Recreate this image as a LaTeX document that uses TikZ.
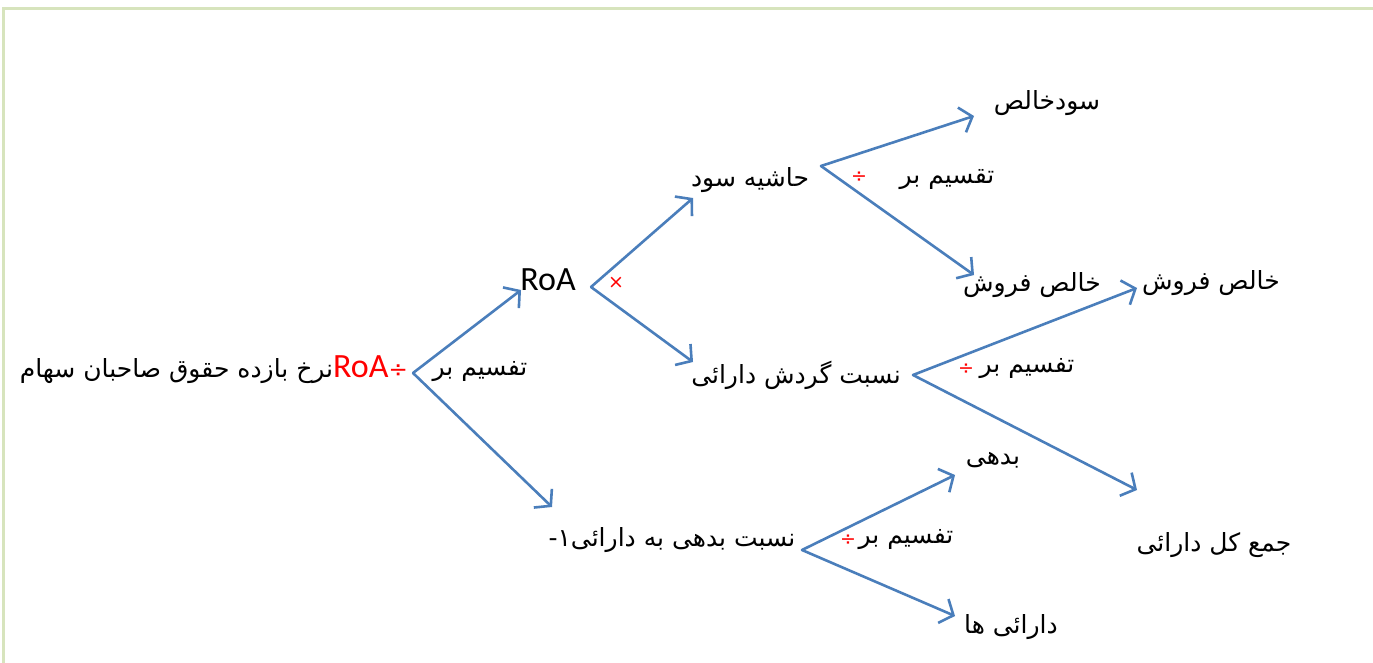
\documentclass[tikz,border=0pt]{standalone}
\usepackage{fontspec}
\usetikzlibrary{arrows.meta}
\TeXXeTstate=1
\setmainfont{DejaVu Sans}
\newfontfamily\fa[Script=Arabic]{DejaVu Sans}
\newfontfamily\lat{Carlito}
\definecolor{lineblue}{HTML}{4A7EBB}
\definecolor{framegreen}{HTML}{D7E4BD}
\begin{document}
\begin{tikzpicture}[x=1pt,y=-1pt,
  fa/.style={font={\fa\fontsize{25}{29}\selectfont}, inner sep=0pt},
  conn/.style={draw=lineblue, line width=2.6pt, line cap=round, line join=round,
    -{Straight Barb[length=11pt,width=26pt,line width=2.6pt]}},
  op/.style={text=red, font={\fontsize{19}{21}\selectfont}, inner sep=0pt}]
\useasboundingbox (0,0) rectangle (1373,663);
\fill[white] (0,0) rectangle (1373,663);
\draw[framegreen, line width=3pt] (3,663) -- (3,9) -- (1373,9);

% nodes
\node[anchor=east, inner sep=0pt] (roe) at (408,370)
  {{\fa\fontsize{25}{29}\selectfont\beginR نرخ بازده حقوق صاحبان سهام\endR}{\color{red}\lat\fontsize{34}{34}\selectfont RoA}{\color{red}\fontsize{23}{26}\selectfont ÷}};
\node[fa] (div1) at (480,372) {\beginR تفسیم بر\endR};
\node[inner sep=0pt, font={\lat\fontsize{34}{34}\selectfont}] (roa) at (548,280) {RoA};
\node[fa] (hashiye) at (750,180) {\beginR حاشیه سود\endR};
\node[fa] (gardesh) at (796,375) {\beginR نسبت گردش دارائی\endR};
\node[fa] (div2) at (947,180) {\beginR تقسیم بر\endR};
\node[fa] (sud) at (1047,103) {\beginR سودخالص\endR};
\node[fa] (forush1) at (1032,285) {\beginR خالص فروش\endR};
\node[fa] (div3) at (1027,369) {\beginR تفسیم بر\endR};
\node[fa] (forush2) at (1211,283) {\beginR خالص فروش\endR};
\node[fa] (jam) at (1214,545) {\beginR جمع کل دارائی\endR};
\node[fa] (bedehinesbat) at (672,540) {\beginR نسبت بدهی به دارائی۱-\endR};
\node[fa] (div4) at (906,540) {\beginR تفسیم بر\endR};
\node[fa] (bedehi) at (993,460) {\beginR بدهی\endR};
\node[fa] (daraei) at (1011,627) {\beginR دارائی ها\endR};

% operators
\node[op] (x1) at (616,283) {×};
\node[op] (o2) at (859,177) {÷};
\node[op] (o3) at (966,369) {÷};
\node[op] (o4) at (848,540) {÷};

% branch points and arrow ends
\coordinate (v0) at (413,373);
\coordinate (t0a) at (521,290);
\coordinate (t0b) at (552,507);
\coordinate (v1) at (591,287);
\coordinate (t1a) at (693,198);
\coordinate (t1b) at (693,362);
\coordinate (v2) at (821,166);
\coordinate (t2a) at (974,116);
\coordinate (t2b) at (974,275);
\coordinate (v3) at (913,375);
\coordinate (t3a) at (1137,288);
\coordinate (t3b) at (1137,490);
\coordinate (v4) at (802,550);
\coordinate (t4a) at (955,475);
\coordinate (t4b) at (955,616);

\draw[conn] (v0) -- (t0a);
\draw[conn] (v0) -- (t0b);
\draw[conn] (v1) -- (t1a);
\draw[conn] (v1) -- (t1b);
\draw[conn] (v2) -- (t2a);
\draw[conn] (v2) -- (t2b);
\draw[conn] (v3) -- (t3a);
\draw[conn] (v3) -- (t3b);
\draw[conn] (v4) -- (t4a);
\draw[conn] (v4) -- (t4b);
\end{tikzpicture}
\end{document}
